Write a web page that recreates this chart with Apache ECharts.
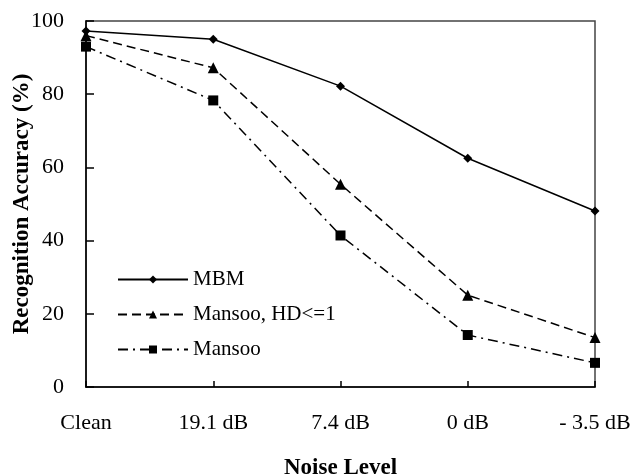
<!DOCTYPE html>
<html>
<head>
<meta charset="utf-8">
<script src="https://cdn.jsdelivr.net/npm/echarts@6/dist/echarts.min.js"></script>
<style>
  html, body { margin: 0; padding: 0; background: #fff; }
  #chart { width: 634px; height: 476px; }
</style>
</head>
<body>
<div id="chart"></div>
<script>
var categories = ['Clean', '19.1 dB', '7.4 dB', '0 dB', '- 3.5 dB']
var mbm = [97.3, 95.0, 82.2, 62.5, 48.1]
var mansooHD = [96.0, 87.2, 55.4, 25.1, 13.5]
var mansoo = [93.0, 78.3, 41.4, 14.2, 6.6]

var font = 'Liberation Serif'

function line (name, data, symbol, size, dash) {
  return {
    name: name,
    type: 'line',
    data: data,
    symbol: symbol,
    symbolSize: size,
    showSymbol: true,
    animation: false,
    itemStyle: { color: '#000' },
    lineStyle: { color: '#000', width: 1.5, type: dash }
  }
}

var myChart = echarts.init(document.getElementById('chart'))
myChart.setOption({
  animation: false,
  grid: {
    left: 86,
    right: 39,
    top: 21,
    bottom: 89,
    outerBoundsMode: 'none',
    containLabel: false,
    show: true,
    borderColor: '#444',
    borderWidth: 1.5
  },
  legend: {
    orient: 'vertical',
    left: 112,
    top: 264,
    itemWidth: 70,
    itemHeight: 10,
    itemGap: 14,
    textStyle: { fontFamily: font, fontSize: 21, color: '#000', lineHeight: 21 },
    data: ['MBM', 'Mansoo, HD<=1', 'Mansoo']
  },
  xAxis: {
    type: 'category',
    data: categories,
    boundaryGap: false,
    name: 'Noise Level',
    nameLocation: 'middle',
    nameMoveOverlap: false,
    nameGap: 70,
    nameTextStyle: { fontFamily: font, fontSize: 23, fontWeight: 'bold', color: '#000' },
    axisLine: { lineStyle: { color: '#000', width: 1.5 } },
    axisTick: { inside: true, length: 6, lineStyle: { color: '#000', width: 1.5 } },
    axisLabel: { fontFamily: font, fontSize: 22, color: '#000', margin: 25 }
  },
  yAxis: {
    type: 'value',
    min: 0,
    max: 100,
    interval: 20,
    name: 'Recognition Accuracy (%)',
    nameLocation: 'middle',
    nameMoveOverlap: false,
    nameGap: 52,
    nameTextStyle: { fontFamily: font, fontSize: 23, fontWeight: 'bold', color: '#000' },
    axisLine: { show: true, lineStyle: { color: '#000', width: 1.5 } },
    axisTick: { show: true, inside: true, length: 8, lineStyle: { color: '#000', width: 1.5 } },
    axisLabel: { fontFamily: font, fontSize: 22, color: '#000', margin: 22 },
    splitLine: { show: false }
  },
  series: [
    line('MBM', mbm, 'diamond', 9, 'solid'),
    line('Mansoo, HD<=1', mansooHD, 'triangle', 11, [9, 5]),
    line('Mansoo', mansoo, 'rect', 10, [10, 5, 2, 5])
  ]
})
</script>
</body>
</html>
